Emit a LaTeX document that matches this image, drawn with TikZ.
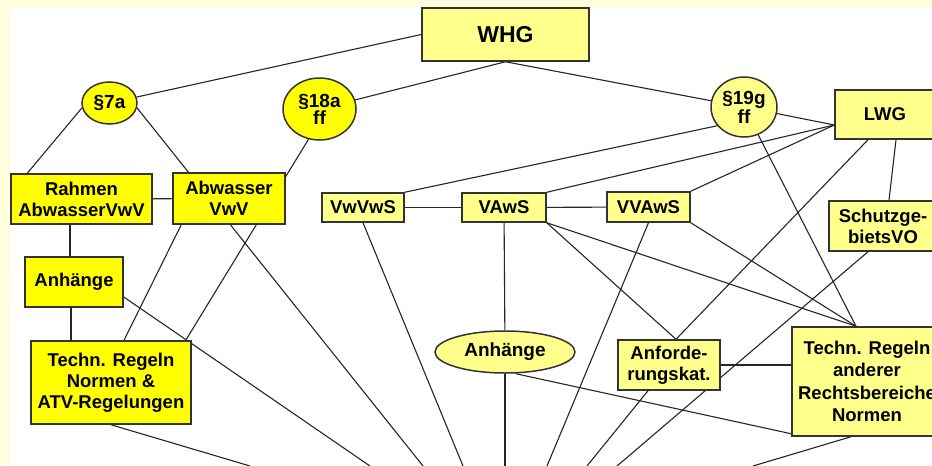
\documentclass[tikz,border=0pt]{standalone}
\usepackage{fontspec}
\setmainfont{Liberation Sans}
\usetikzlibrary{shapes.geometric}
\definecolor{gelb}{RGB}{255,255,0}
\definecolor{hellgelb}{RGB}{255,255,140}
\definecolor{creme}{RGB}{255,255,222}
\tikzset{
    every node/.style={draw=black!80, line width=1.5pt, inner sep=0pt, align=center,
    	font=\fontsize{18.5}{21}\selectfont\bfseries}
}
\tikzset{
    every edge/.append style={line width=1.1pt, draw=black!85}
}
\tikzset{
	kasten/.style={rectangle, fill=gelb},
	hkasten/.style={rectangle, fill=hellgelb},
	para/.style={ellipse, fill=gelb, font=\fontsize{19}{15}\selectfont\bfseries},
	hpara/.style={ellipse, fill=hellgelb, font=\fontsize{19}{15}\selectfont\bfseries}
}
\pgfdeclarelayer{background}
\pgfsetlayers{background,main}

\begin{document}
\begin{tikzpicture}[x=1pt, y=-1pt]
	\useasboundingbox (0,0) rectangle (932,466);
	\begin{pgfonlayer}{background}
		\fill[creme] (0,0) rectangle (932,466);
		\fill[white] (10,8) rectangle (932,466);
	\end{pgfonlayer}
	\clip (0,0) rectangle (932,466);

	\node (whg) [hkasten, minimum width=167, minimum height=53,
		font=\fontsize{23}{26}\selectfont\bfseries] at (505.5, 34.5) {WHG};
	\node (p7a) [para, minimum width=55, minimum height=42] at (109.5, 103) {§7a};
	\node (p18a) [para, minimum width=73, minimum height=62] at (319.5, 109) {§18a\\ff};
	\node (p19g) [hpara, minimum width=66, minimum height=60] at (744, 107) {§19g\\ff};
	\node (lwg) [hkasten, minimum width=100, minimum height=49] at (885, 114.5) {LWG};

	\node (rahmen) [kasten, minimum width=141, minimum height=50] at (81.5, 199) {Rahmen\\AbwasserVwV};
	\node (abw) [kasten, minimum width=112, minimum height=51] at (229, 198.5) {Abwasser\\VwV};
	\node (vwvws) [hkasten, minimum width=82, minimum height=29] at (363, 207.5) {VwVwS};
	\node (vaws) [hkasten, minimum width=84, minimum height=29] at (504, 207.5) {VAwS};
	\node (vvaws) [hkasten, minimum width=83, minimum height=30] at (648.5, 207) {VVAwS};
	\node (schutz) [hkasten, minimum width=108, minimum height=50] at (883, 226) {Schutzge-\\bietsVO};

	\node (anhL) [kasten, minimum width=98, minimum height=50] at (74, 282) {Anhänge};
	\node (techL) [kasten, minimum width=160, minimum height=83] at (111, 382.5)
		{Techn. Regeln\\Normen \&\\ATV-Regelungen};
	\node (anhE) [hpara, minimum width=140, minimum height=42] at (505, 352) {Anhänge};
	\node (anf) [hkasten, minimum width=102, minimum height=50] at (669, 365) {Anforde-\\rungskat.};
	\node (tand) [hkasten, minimum width=150, minimum height=109,
		font=\fontsize{18.5}{22.5}\selectfont\bfseries] at (867, 381.5)
		{Techn. Regeln\\anderer\\Rechtsbereiche\\Normen};

	\coordinate (lwgIn) at ([yshift=-10.5pt]lwg.west);
	\coordinate (tandIn) at ([xshift=-11pt]tand.north);
	\coordinate (b1) at (250, 466); \coordinate (b2) at (370, 466);
	\coordinate (b3) at (423, 466); \coordinate (b4) at (463, 466);
	\coordinate (b5) at (505, 466); \coordinate (b6) at (547, 466);
	\coordinate (b7) at (587, 466); \coordinate (b8) at (617, 466);
	\coordinate (b9) at (753, 466);

	\begin{pgfonlayer}{background}
	\draw (whg.west) edge (p7a); \draw (whg.south) edge (p18a);
	\draw (whg.south) edge (p19g);
	\draw (p7a.190) edge ([xshift=17pt]rahmen.north west);
	\draw (p7a.350) edge (b3);
	\draw (p18a.250) edge ([xshift=-6pt]techL.north east);
	\draw (rahmen) edge (abw);
	\draw ([xshift=-4pt]anhL.north) edge ([xshift=-4pt]anhL.north |- rahmen.south);
	\draw ([xshift=-3pt]anhL.south) edge ([xshift=-3pt]anhL.south |- techL.north);
	\draw ([yshift=-15pt]anhL.east) edge (b2);
	\draw ([xshift=9pt]abw.south west) edge ([xshift=13pt]techL.north);
	\draw (techL.south) edge (b1);

	\draw (vwvws) edge (vaws); \draw (vaws) edge (vvaws);
	\draw (vwvws.north east) edge (p19g.215);
	\draw (vaws.north east) edge (lwgIn); \draw (vvaws.north east) edge (lwgIn);
	\draw (p19g) edge (lwgIn); \draw (p19g) edge (tandIn);
	\draw ([xshift=11pt]lwg.south) edge ([xshift=6pt]schutz.north);
	\draw ([xshift=-17pt]lwg.south) edge ([xshift=7pt]anf.north);
	\draw ([xshift=-15pt]schutz.south) edge (b8);

	\draw (vaws) edge (anhE); \draw (anhE) edge (b5);
	\draw (vaws.south east) edge ([xshift=7pt]anf.north);
	\draw (vaws.south east) edge (tandIn); \draw (vvaws.south east) edge (tandIn);
	\draw (vvaws.south) edge (b6); \draw (vwvws.south) edge (b4);
	\draw (anf.east) edge (anf.east -| tand.west);
	\draw ([xshift=-21pt]anf.south) edge (b7);
	\draw ([xshift=11pt]anhE.south) edge ([yshift=3pt]tand.south west);
	\draw ([xshift=-16pt]tand.south) edge (b9);
	\end{pgfonlayer}
\end{tikzpicture}
\end{document}
